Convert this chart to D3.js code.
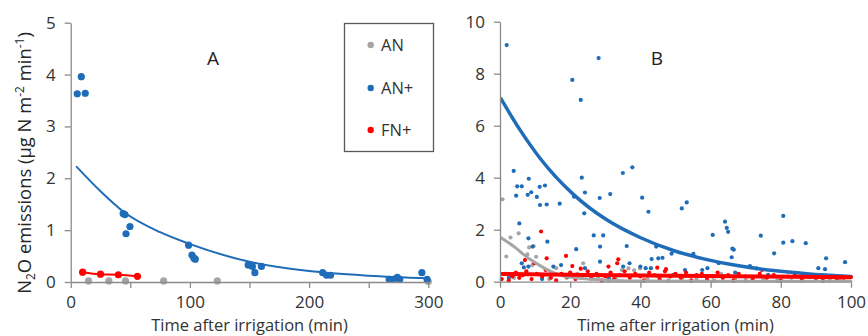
<!DOCTYPE html>
<html><head><meta charset="utf-8">
<script src="https://cdn.jsdelivr.net/npm/d3@7"></script>
<style>
body{margin:0;background:#fff}
svg{display:block}
text{font-family:'Open Sans',sans-serif}
</style>
</head><body>
<svg id="chart" width="868" height="336"></svg>
<script>
// ---------- DATA ----------
const seriesNames = ["AN", "AN+", "FN+"];
const seriesColors = ["#a5a5a5", "#1f6cb8", "#ff0000"];

// Panel A (time, value)
const aTimeAN = [15, 32, 46, 78, 123, 300];
const aValAN  = [0.02, 0.02, 0.02, 0.02, 0.02, 0.01];
const aTimeANp = [5.5, 8.9, 12.2, 44, 45.5, 46.4, 49.7, 98.9, 101.7, 103.4, 104.5, 148.9, 150.9, 152.5, 154.5, 160, 211.4, 214.7, 218, 267.2, 270.6, 274, 276, 294.6, 299];
const aValANp  = [3.63, 3.96, 3.64, 1.32, 1.30, 0.93, 1.07, 0.71, 0.52, 0.46, 0.44, 0.33, 0.33, 0.30, 0.18, 0.30, 0.18, 0.13, 0.13, 0.05, 0.05, 0.09, 0.05, 0.18, 0.05];
const aTimeFNp = [10, 25, 40, 56];
const aValFNp  = [0.19, 0.15, 0.14, 0.11];
// Panel A trend
const aTrendANpT = [5, 25, 44, 75, 99, 150, 200, 250, 300];
const aTrendANpV = [2.22, 1.75, 1.36, 0.96, 0.74, 0.39, 0.21, 0.12, 0.07];
const aTrendFNpT = [10, 25, 40, 56];
const aTrendFNpV = [0.19, 0.15, 0.14, 0.11];

// Panel B points
const bTimeANp = [1.9,28.1,20.6,23.0,3.9,37.7,35.0,23.3,8.2,4.9,6.2,4.6,7.9,8.9,11.3,12.8,10.5,11.4,13.3,17.0,21.1,24.2,24.0,28.4,31.4,40.5,42.3,51.8,53.2,5.5,8.1,9.3,13.5,21.7,26.7,29.4,28.5,36.1,43.2,44.5,45.1,46.3,48.9,55.1,60.6,64.1,64.6,65.0,66.2,66.6,66.0,74.3,78.1,80.7,80.7,83.3,87.1,90.7,92.6,92.9,98.3,71.2,28.5,6.2,6.8,8.1,15.2,17.4,24.2,35.1,40.0,41.5,43.0,49.4,52.7,57.6,59.1,62.3,67.0,73.1,76.4,88.0,95.4,36.9,2.5,12.0,19.5,31.0];
const bValANp  = [9.1,8.6,7.76,6.99,4.26,4.4,4.18,4.0,3.96,3.67,3.67,3.31,3.34,3.44,3.65,3.70,3.26,2.95,2.97,3.0,3.27,3.43,2.63,3.22,3.37,3.23,2.69,2.82,3.05,2.24,1.67,1.35,1.54,1.25,1.78,1.78,1.35,1.37,0.87,1.35,0.9,0.92,1.08,1.07,1.8,2.31,2.07,1.92,1.27,1.23,0.94,1.77,1.09,2.53,1.5,1.56,1.48,0.52,0.48,0.9,0.75,0.6,0.77,0.71,0.55,0.58,0.58,0.64,0.52,0.58,0.58,0.52,0.52,0.26,0.45,0.45,0.52,0.71,0.35,0.51,0.26,0.2,0.19,0.71,0.15,0.1,0.2,0.12];
const bTimeAN = [0.7,3.0,5.3,1.8,8.3,9.6,7.8,10.3,9.2,16.0,23.7,34.7,36.6,39.9,38.2,2.0,4.0,12.0,14.0,19.0,22.0,26.0,28.0,31.0,33.0,42.0,45.0,48.0,52.0,56.0,61.0,63.0,67.0,70.0,75.0,79.0,83.0,86.0,90.0,94.0,97.0];
const bValAN  = [3.17,1.7,1.86,0.97,1.32,1.37,1.05,0.96,0.64,0.52,0.71,0.45,0.51,0.51,0.44,0.3,0.15,0.2,0.1,0.15,0.3,0.1,0.2,0.05,0.15,0.1,0.2,0.05,0.15,0.1,0.05,0.3,0.1,0.05,0.12,0.05,0.15,0.05,0.1,0.05,0.1];
const bTimeFNp = [11.7,13.3,18.8,7.1,9.8,20.6,23.0,30.9,33.4,33.7,44.8,47.3,74.6,0.5,1.5,2.5,3.5,4.5,5.5,6.5,7.5,9.0,10.5,12.0,13.0,14.5,16.0,17.5,19.0,20.0,21.5,23.5,25.0,26.0,27.5,29.0,30.0,31.5,32.5,34.0,35.5,37.0,38.5,40.0,41.0,42.5,44.0,45.5,47.0,48.5,50.0,51.5,53.0,54.5,56.0,57.5,59.0,60.5,62.0,63.5,65.0,66.5,68.0,70.0,72.0,74.0,76.0,78.0,80.0,82.0,84.0,86.0,88.0,90.0,92.0,94.0,96.0,98.0];
const bValFNp  = [1.93,0.9,0.99,0.83,0.71,0.6,0.5,0.58,0.71,0.86,0.54,0.48,0.45,0.1,0.3,0.05,0.2,0.35,0.15,0.25,0.4,0.1,0.3,0.2,0.45,0.15,0.05,0.3,0.2,0.35,0.1,0.25,0.4,0.15,0.3,0.05,0.2,0.35,0.1,0.25,0.4,0.15,0.3,0.2,0.05,0.35,0.25,0.1,0.4,0.2,0.3,0.15,0.35,0.05,0.25,0.3,0.1,0.2,0.35,0.15,0.25,0.05,0.3,0.2,0.1,0.3,0.15,0.25,0.05,0.2,0.3,0.1,0.25,0.15,0.05,0.2,0.1,0.15];
// Panel B trends
const bTrendANpT = [0.3, 5.7, 11.4, 20.9, 30.4, 39.9, 49.4, 59, 68.4, 77.9, 87.4, 100];
const bTrendANpV = [7.03, 5.84, 4.75, 3.36, 2.38, 1.7, 1.2, 0.85, 0.6, 0.43, 0.31, 0.2];
const bTrendANT = [0.3, 4.3, 8.1, 11.9, 14.7, 17.1, 20, 25, 30, 40, 60, 80, 100];
const bTrendANV = [1.69, 1.32, 0.9, 0.58, 0.38, 0.26, 0.18, 0.1, 0.06, 0.03, 0.02, 0.02, 0.02];
const bTrendFNpT = [0.3, 25, 50, 75, 100];
const bTrendFNpV = [0.3, 0.26, 0.23, 0.2, 0.175];

// Axis ticks
const aYTicks = [0,1,2,3,4,5];
const aXTicks = [0,50,100,150,200,250,300];
const bYTicks = [0,2,4,6,8,10];
const bXTicks = [0,20,40,60,80,100];
const xTitle = "Time after irrigation (min)";

// ---------- DRAW ----------
const svg = d3.select("#chart");
const axisColor = "#8a8a8a", textColor = "#333333";
const zip = (t, v) => t.map((d, i) => [d, v[i]]);

const xA = d3.scaleLinear([0,300],[70.7,428.3]);
const yA = d3.scaleLinear([0,5],[282,22.7]);
const xB = d3.scaleLinear([0,100],[500,851]);
const yB = d3.scaleLinear([0,10],[281.7,21.7]);

function styleAxis(g){
  g.select(".domain").attr("stroke", axisColor).attr("stroke-width", 1.3);
  g.selectAll(".tick line").attr("stroke", axisColor).attr("stroke-width", 1.3);
  g.selectAll(".tick text").attr("fill", textColor).attr("font-size", 17).attr("font-family","'Open Sans',sans-serif");
}

function drawPanel(x, y, yTicks, xTicks, xFmt, ptsList, lines, r, letter, letterX){
  const clipId = "clip" + letter;
  svg.append("clipPath").attr("id", clipId).append("rect")
    .attr("x", x.range()[0]).attr("y", y.range()[1]-2)
    .attr("width", x.range()[1]-x.range()[0]+3).attr("height", y.range()[0]-y.range()[1]+2);
  const plot = svg.append("g");
  ptsList.forEach(p => {
    plot.append("g").selectAll("circle").data(p.data).join("circle")
      .attr("cx", d => x(d[0])).attr("cy", d => y(d[1])).attr("r", r)
      .attr("fill", p.color);
  });
  lines.forEach(l => {
    plot.append("path").datum(l.data)
      .attr("clip-path", `url(#${clipId})`)
      .attr("fill","none").attr("stroke", l.color).attr("stroke-width", l.w)
      .attr("stroke-linecap","round")
      .attr("d", d3.line().x(d => x(d[0])).y(d => y(d[1])).curve(d3.curveMonotoneX));
  });
  svg.append("g").attr("transform", `translate(${x.range()[0]},0)`)
    .call(d3.axisLeft(y).tickValues(yTicks).tickFormat(d3.format("d")).tickSize(6).tickSizeOuter(0).tickPadding(9))
    .call(styleAxis);
  svg.append("g").attr("transform", `translate(0,${y.range()[0]})`)
    .call(d3.axisBottom(x).tickValues(xTicks).tickFormat(xFmt).tickSize(6).tickSizeOuter(0).tickPadding(8))
    .call(styleAxis);
  svg.append("text").attr("x", letterX).attr("y", 65).attr("text-anchor","middle")
    .attr("font-size", 19).attr("fill", "#222").text(letter);
  svg.append("text").attr("x", (x.range()[0]+x.range()[1])/2).attr("y", 330.5)
    .attr("text-anchor","middle").attr("font-size", 16.5).attr("fill", textColor).text(xTitle);
}

drawPanel(xA, yA, aYTicks, aXTicks, d => d % 100 === 0 ? d : "",
  [ {data: zip(aTimeAN, aValAN), color: seriesColors[0]},
    {data: zip(aTimeANp, aValANp), color: seriesColors[1]},
    {data: zip(aTimeFNp, aValFNp), color: seriesColors[2]} ],
  [ {data: zip(aTrendANpT, aTrendANpV), color: seriesColors[1], w: 2},
    {data: zip(aTrendFNpT, aTrendFNpV), color: seriesColors[2], w: 2} ],
  3.6, "A", 213);

drawPanel(xB, yB, bYTicks, bXTicks, d => d,
  [ {data: zip(bTimeAN, bValAN), color: seriesColors[0]},
    {data: zip(bTimeANp, bValANp), color: seriesColors[1]},
    {data: zip(bTimeFNp, bValFNp), color: seriesColors[2]} ],
  [ {data: zip(bTrendANT, bTrendANV), color: seriesColors[0], w: 3},
    {data: zip(bTrendANpT, bTrendANpV), color: seriesColors[1], w: 3.5},
    {data: zip(bTrendFNpT, bTrendFNpV), color: seriesColors[2], w: 4} ],
  2.1, "B", 657);

// y-axis title
const yt = svg.append("text").attr("transform","translate(31,163) rotate(-90)")
  .attr("text-anchor","middle").attr("font-size", 18.4).attr("fill", "#262626");
yt.append("tspan").text("N");
yt.append("tspan").attr("font-size", 12).attr("dy", 4).text("2");
yt.append("tspan").attr("dy", -4).text("O emissions (µg N m");
yt.append("tspan").attr("font-size", 12).attr("dy", -7).text("-2");
yt.append("tspan").attr("dy", 7).text(" min");
yt.append("tspan").attr("font-size", 12).attr("dy", -7).text("-1");
yt.append("tspan").attr("dy", 7).text(")");

// legend
const lg = svg.append("g");
lg.append("rect").attr("x", 344.5).attr("y", 23.5).attr("width", 89).attr("height", 128)
  .attr("fill", "#fff").attr("stroke", "#595959").attr("stroke-width", 1.3);
const legY = [45, 88, 130];
seriesNames.forEach((n, i) => {
  lg.append("circle").attr("cx", 370.7).attr("cy", legY[i]).attr("r", 3.2).attr("fill", seriesColors[i]);
  lg.append("text").attr("x", 381).attr("y", legY[i]).attr("dy", "0.36em")
    .attr("font-size", 16.5).attr("fill", textColor).text(n);
});
</script>
</body></html>
